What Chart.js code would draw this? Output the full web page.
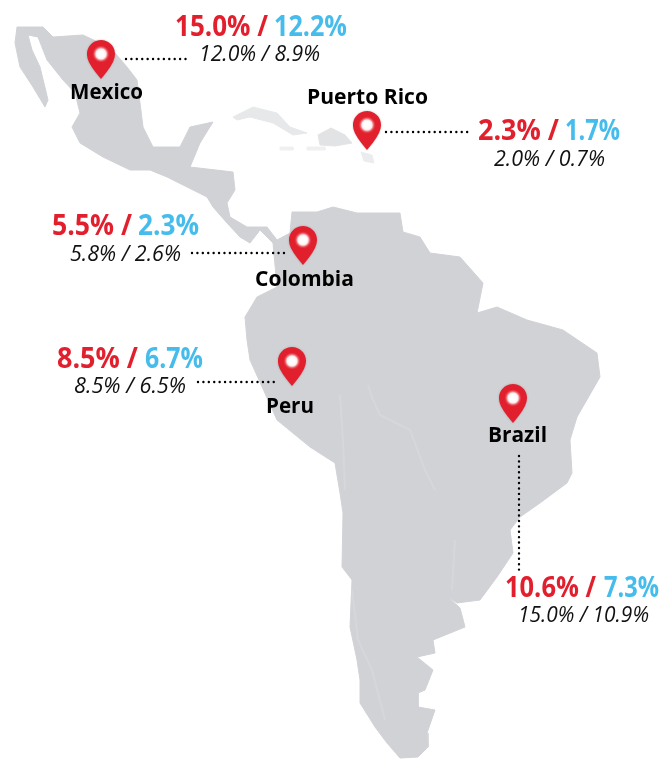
<!DOCTYPE html>
<html>
<head>
<meta charset="utf-8">
<style>
    html, body { margin: 0; padding: 0; background: #fff; }
    canvas { display: block; }
</style>
<script src="https://cdn.jsdelivr.net/npm/chart.js@4/dist/chart.umd.min.js"></script>
</head>
<body>
<canvas id="map-chart" width="662" height="759"></canvas>
<script>
const countries = ['Mexico', 'Puerto Rico', 'Colombia', 'Peru', 'Brazil'];
const redValues = [15.0, 2.3, 5.5, 8.5, 10.6];
const blueValues = [12.2, 1.7, 2.3, 6.7, 7.3];
const redPrior = [12.0, 2.0, 5.8, 8.5, 15.0];
const bluePrior = [8.9, 0.7, 2.6, 6.5, 10.9];

// pin centres, in picture pixels
const pinX = [101, 367, 303, 292, 513];
const pinY = [60, 131, 246, 367, 404];

// leader lines, [x, y] from pin to label
const leaders = [
    [[126, 59], [187, 59]],
    [[386, 132], [472, 132]],
    [[192, 253], [285, 253]],
    [[198, 382], [277, 382]],
    [[519, 456], [519, 570]]
];

// land outlines
const mainland = [
    [17, 27], [43, 27], [53, 37], [83, 35], [100, 43], [115, 53], [127, 67], [137, 80], [140, 103], [143, 127],
    [153, 147], [180, 147], [190, 127], [213, 122], [200, 143], [190, 167], [233, 172], [235, 190], [227, 203],
    [230, 217], [247, 227], [267, 227], [277, 240], [290, 233], [292, 212], [317, 212], [333, 207], [357, 213],
    [400, 213], [403, 232], [420, 237], [430, 253], [460, 257], [483, 283], [477, 313], [497, 307], [527, 320],
    [563, 330], [597, 353], [600, 377], [577, 417], [570, 440], [572, 473], [567, 483], [540, 503], [520, 517],
    [510, 530], [513, 553], [497, 577], [480, 600], [457, 603], [448, 597], [460, 608], [465, 627], [433, 640],
    [435, 653], [417, 657], [433, 670], [425, 690], [418, 693], [418, 707], [435, 710], [427, 733], [428, 747],
    [418, 757], [400, 758], [387, 743], [375, 727], [360, 703], [360, 680], [357, 660], [350, 627], [352, 580],
    [342, 567], [343, 513], [340, 493], [335, 463], [310, 447], [277, 420], [250, 360], [247, 340], [245, 317],
    [257, 297], [277, 287], [273, 243], [260, 230], [250, 243], [240, 237], [227, 223], [213, 207], [207, 197],
    [187, 187], [167, 177], [150, 170], [130, 170], [103, 157], [80, 143], [72, 127], [80, 113], [75, 93],
    [63, 80], [47, 60], [38, 37], [28, 35], [32, 50], [40, 67], [48, 100], [45, 107], [33, 87], [20, 67], [15, 43],
    [17, 27]
];
const cuba = [[233, 117], [253, 107], [277, 113], [290, 127], [307, 133], [293, 135], [273, 123], [250, 117], [237, 120], [233, 117]];
const hispaniola = [[318, 135], [331, 128], [345, 135], [352, 143], [335, 146], [320, 145], [318, 135]];
const jamaica = [[280, 147], [293, 147], [293, 150], [280, 150], [280, 147]];
const caymans = [[307, 147], [325, 147], [325, 150], [307, 150], [307, 147]];
const prIsland = [[361, 152], [372, 155], [374, 163], [364, 161], [361, 152]];

// faint rivers and borders inside the land
const innerLines = [
    [[368, 385], [373, 400], [380, 415], [410, 430], [425, 470], [435, 490]],
    [[352, 590], [358, 640], [372, 670], [385, 720]],
    [[340, 395], [343, 440], [345, 490]],
    [[455, 540], [452, 590]]
];

// text placement: [left, baseline, right] of each piece
const nameBoxes = [[70, 99, 143], [307, 104, 428], [255, 286, 354], [266, 413, 314], [488, 442, 547]];
const redBoxes = [[175, 36, 268], [478, 140, 559], [52, 235, 132], [57, 368, 138], [505, 597, 596]];
const blueBoxes = [[274, 36, 347], [565, 140, 620], [138, 235, 199], [145, 368, 203], [604, 597, 659]];
const priorBoxes = [[199, 61, 320], [494, 166, 605], [70, 261, 181], [74, 393, 186], [518, 622, 649]];

function toPoints(list) {
    return list.map(p => ({ x: p[0], y: p[1] }));
}

function landDataset(outline, color) {
    return {
        data: toPoints(outline),
        showLine: true,
        fill: 'shape',
        backgroundColor: color,
        borderColor: color,
        borderWidth: 1,
        pointRadius: 0,
        tension: 0
    };
}

function makePin() {
    const pin = document.createElement('canvas');
    pin.width = 36;
    pin.height = 48;
    const ctx = pin.getContext('2d');
    ctx.shadowColor = 'rgba(120, 90, 90, 0.45)';
    ctx.shadowBlur = 2;
    ctx.fillStyle = '#e21f2d';
    ctx.beginPath();
    ctx.arc(18, 18, 14, Math.PI * 0.92, Math.PI * 0.08);
    ctx.quadraticCurveTo(30, 29, 18, 43);
    ctx.quadraticCurveTo(6, 29, 4.4, 22);
    ctx.closePath();
    ctx.fill();
    ctx.shadowBlur = 0;
    const glow = ctx.createRadialGradient(18, 18, 3, 18, 18, 9);
    glow.addColorStop(0, '#ffffff');
    glow.addColorStop(0.35, '#fdeaea');
    glow.addColorStop(1, 'rgba(226, 31, 45, 0)');
    ctx.fillStyle = glow;
    ctx.beginPath();
    ctx.arc(18, 18, 9, 0, Math.PI * 2);
    ctx.fill();
    return pin;
}

const percent = v => v.toFixed(1) + '%';

const labelPlugin = {
    id: 'labels',
    afterDatasetsDraw(chart) {
        const ctx = chart.ctx;
        const sx = chart.scales.x;
        const sy = chart.scales.y;
        const put = (text, box, font, color) => {
            const left = sx.getPixelForValue(box[0]);
            ctx.font = font;
            ctx.fillStyle = color;
            ctx.fillText(text, left, sy.getPixelForValue(box[1]), sx.getPixelForValue(box[2]) - left);
        };
        ctx.save();
        ctx.textAlign = 'left';
        ctx.textBaseline = 'alphabetic';
        countries.forEach((name, i) => {
            put(name, nameBoxes[i], '700 21.5px "Open Sans"', '#000000');
            put(percent(redValues[i]) + ' /', redBoxes[i], '700 29px "Open Sans"', '#e21f2d');
            put(percent(blueValues[i]), blueBoxes[i], '700 29px "Open Sans"', '#45bcec');
            put(percent(redPrior[i]) + ' / ' + percent(bluePrior[i]), priorBoxes[i], 'italic 400 22px "Open Sans"', '#111111');
        });
        ctx.restore();
    }
};

const context = document.getElementById('map-chart').getContext('2d');
new Chart(context, {
    type: 'scatter',
    data: {
        datasets: [
            {
                label: 'Pins',
                data: pinX.map((x, i) => ({ x: x, y: pinY[i] })),
                pointStyle: makePin(),
                pointRadius: 18
            },
            ...leaders.map(line => ({
                data: toPoints(line),
                showLine: true,
                borderColor: '#000000',
                borderWidth: 2.4,
                borderCapStyle: 'round',
                borderDash: [0.01, 5.4],
                pointRadius: 0
            })),
            ...innerLines.map(line => ({
                data: toPoints(line),
                showLine: true,
                borderColor: '#d6d7da',
                borderWidth: 2,
                pointRadius: 0
            })),
            landDataset(mainland, '#d1d2d6'),
            landDataset(cuba, '#e7e8ea'),
            landDataset(hispaniola, '#e2e3e5'),
            landDataset(jamaica, '#f0f0f2'),
            landDataset(caymans, '#f0f0f2'),
            landDataset(prIsland, '#ebecee')
        ]
    },
    options: {
        responsive: false,
        animation: false,
        layout: { padding: 0, autoPadding: false },
        plugins: {
            legend: { display: false },
            tooltip: { enabled: false }
        },
        scales: {
            x: { type: 'linear', display: false, min: 0, max: 662 },
            y: { type: 'linear', display: false, min: 0, max: 759, reverse: true }
        }
    },
    plugins: [labelPlugin]
});
</script>
</body>
</html>
